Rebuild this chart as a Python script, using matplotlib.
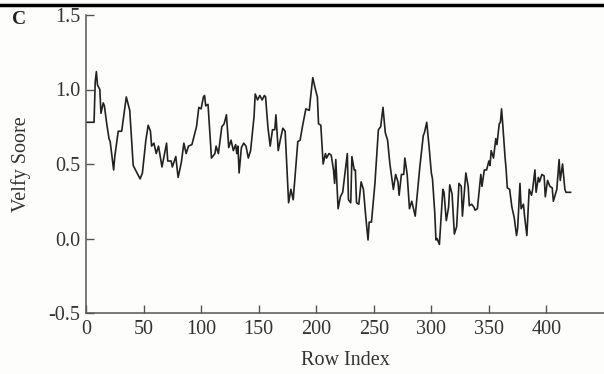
import matplotlib
matplotlib.use("Agg")
import matplotlib.pyplot as plt
from matplotlib.lines import Line2D

# values (row index, score)
rows = [
    0, 7, 8, 9, 10, 12, 13, 15, 16, 18, 20, 21, 24, 25, 27, 28, 31, 35, 38, 41,
    43, 45, 47, 49, 52, 54, 56, 57, 59, 61, 63, 66, 70, 71, 74, 75, 78, 80, 82, 83,
    85, 87, 89, 92, 94, 96, 98, 100, 102, 103, 104, 106, 109, 112, 113, 115, 118, 120, 122, 124,
    126, 128, 130, 131, 132, 133, 135, 137, 139, 141, 143, 146, 147, 149, 151, 153, 155, 156, 158, 160,
    162, 164, 165, 167, 169, 171, 173, 176, 178, 180, 184, 186, 188, 191, 194, 195, 197, 199, 201, 202,
    204, 206, 208, 209, 211, 213, 215, 216, 217, 219, 221, 223, 227, 228, 230, 231, 233, 234, 235, 237,
    239, 241, 243, 245, 246, 248, 251, 254, 256, 258, 260, 262, 264, 267, 269, 271, 272, 274, 276, 277,
    279, 281, 283, 286, 290, 293, 294, 296, 298, 300, 301, 303, 304, 305, 307, 310, 311, 313, 315, 316,
    318, 320, 322, 324, 326, 327, 330, 332, 333, 335, 337, 338, 340, 343, 344, 346, 348, 350, 351, 352,
    354, 356, 357, 359, 360, 361, 362, 364, 365, 366, 368, 370, 372, 374, 375, 377, 378, 380, 381, 383,
    385, 387, 388, 390, 391, 393, 394, 396, 398, 399, 401, 403, 405, 406, 409, 411, 412, 414, 416, 417,
    421,
]
scores = [
    0.78, 0.78, 1.05, 1.12, 1.03, 1.00, 0.84, 0.91, 0.89, 0.77, 0.67, 0.65, 0.46, 0.55, 0.66, 0.72, 0.72, 0.95, 0.86, 0.49,
    0.46, 0.43, 0.40, 0.44, 0.66, 0.76, 0.72, 0.62, 0.64, 0.57, 0.62, 0.48, 0.64, 0.52, 0.52, 0.48, 0.55, 0.41, 0.48, 0.52,
    0.64, 0.57, 0.62, 0.63, 0.69, 0.75, 0.88, 0.87, 0.95, 0.96, 0.89, 0.90, 0.54, 0.57, 0.62, 0.57, 0.75, 0.77, 0.83, 0.61,
    0.66, 0.59, 0.63, 0.57, 0.62, 0.44, 0.61, 0.64, 0.62, 0.54, 0.59, 0.82, 0.97, 0.93, 0.96, 0.93, 0.96, 0.95, 0.75, 0.62,
    0.73, 0.73, 0.83, 0.59, 0.67, 0.74, 0.72, 0.24, 0.33, 0.26, 0.65, 0.66, 0.75, 0.87, 0.86, 0.94, 1.08, 1.01, 0.95, 0.77,
    0.76, 0.50, 0.57, 0.54, 0.57, 0.56, 0.46, 0.37, 0.53, 0.20, 0.28, 0.31, 0.57, 0.26, 0.24, 0.55, 0.46, 0.46, 0.24, 0.23,
    0.38, 0.33, 0.15, -0.01, 0.11, 0.11, 0.37, 0.73, 0.75, 0.88, 0.71, 0.66, 0.50, 0.33, 0.43, 0.38, 0.29, 0.43, 0.43, 0.54,
    0.43, 0.20, 0.25, 0.15, 0.48, 0.69, 0.71, 0.78, 0.62, 0.44, 0.40, 0.17, -0.01, 0.00, -0.04, 0.33, 0.31, 0.12, 0.21, 0.36,
    0.30, 0.03, 0.08, 0.37, 0.35, 0.15, 0.44, 0.35, 0.22, 0.23, 0.21, 0.19, 0.20, 0.43, 0.35, 0.46, 0.46, 0.52, 0.49, 0.59,
    0.54, 0.67, 0.63, 0.77, 0.78, 0.87, 0.77, 0.55, 0.46, 0.34, 0.33, 0.21, 0.14, 0.02, 0.07, 0.37, 0.20, 0.23, 0.15, 0.02,
    0.33, 0.29, 0.33, 0.46, 0.31, 0.41, 0.38, 0.43, 0.42, 0.28, 0.39, 0.35, 0.34, 0.25, 0.33, 0.53, 0.39, 0.50, 0.33, 0.31,
    0.31,
]
x_ticks = [0, 50, 100, 150, 200, 250, 300, 350, 400]
y_ticks = [-0.5, 0.0, 0.5, 1.0, 1.5]

plt.rcParams["font.family"] = ["Liberation Serif", "DejaVu Serif"]
plt.rcParams["axes.unicode_minus"] = False

W, H = 604, 374
fig = plt.figure(figsize=(W / 100, H / 100), dpi=100, facecolor="#fdfdfb")
ax = fig.add_axes([86 / W, 1 - 313 / H, 1 - 86 / W, (313 - 15) / H])
ax.set_facecolor("#fdfdfb")

ax.plot(rows, scores, color="#222222", lw=1.2)

ax.set_xlim(0, 450)
ax.set_ylim(-0.5, 1.5)
ax.set_xticks(x_ticks)
ax.set_yticks(y_ticks)
ax.set_yticklabels([f"{v:.1f}" for v in y_ticks])

for s in ["top", "right"]:
    ax.spines[s].set_visible(False)
for s in ["left", "bottom"]:
    ax.spines[s].set_color("#555555")
    ax.spines[s].set_linewidth(1.1)

ax.tick_params(direction="in", length=6, width=1.0, color="#555555",
               labelsize=14.5, labelcolor="#333333")
ax.tick_params(axis="y", pad=4)
ax.tick_params(axis="x", pad=5)

ax.set_xlabel("Row Index", fontsize=14.5, color="#333333", labelpad=9)
ax.set_ylabel("Velfy Soore", fontsize=14.5, color="#333333", labelpad=13)

fig.text(12 / W, 1 - 20 / H, "C", fontsize=14, fontweight="bold", va="center", ha="left", color="#222222")
fig.add_artist(Line2D([0, 1], [1 - 5 / H, 1 - 5 / H], transform=fig.transFigure, color="black", lw=2.5))

fig.savefig("out.png", dpi=100, facecolor=fig.get_facecolor())
